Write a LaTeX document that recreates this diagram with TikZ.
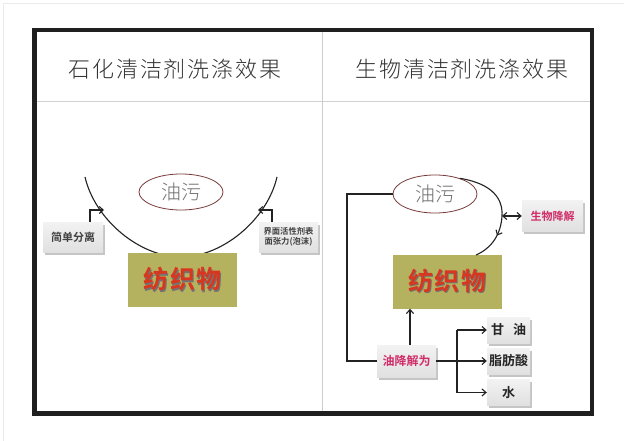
\documentclass[tikz,border=0pt]{standalone}
\usepackage{fontspec}
\newfontfamily\cjk{Noto Sans CJK SC}
\newfontfamily\cjkl[LetterSpace=8]{Noto Sans CJK SC Light}
\newfontfamily\cjkoil{Noto Sans CJK SC Light}
\newfontfamily\cjkb{Noto Sans CJK SC Bold}
\newfontfamily\cjkbs[LetterSpace=6]{Noto Sans CJK SC Bold}
\usetikzlibrary{shadows,arrows.meta,decorations.markings,shapes.geometric}
\definecolor{crim}{HTML}{D02C68}
\definecolor{fabric}{HTML}{B4B25E}
\definecolor{fabtext}{HTML}{D9361F}
\definecolor{ellc}{HTML}{7A3B3B}
\definecolor{oilc}{HTML}{707070}
\definecolor{ink}{HTML}{222222}
\newcommand{\fabtxt}{\makebox[0pt][l]{\hspace{1.3pt}\raisebox{-1.3pt}{\color{black!55}纺织物}}纺织物}
\begin{document}
\begin{tikzpicture}[x=1pt,y=-1pt,
  box/.style={draw=none, top color=gray!10, bottom color=gray!24,
    drop shadow={shadow xshift=1.6pt,shadow yshift=-2.6pt,fill=black!45},
    inner sep=0pt, text=black!75},
  fabbox/.style={fill=fabric, minimum width=109pt, minimum height=54pt, inner sep=0pt,
    font=\cjkbs\fontsize{25}{25}\selectfont, text=fabtext},
  oil/.style={ellipse, draw=ellc, line width=0.8pt, minimum width=84pt, minimum height=36pt,
    inner sep=0pt, font=\cjkoil\fontsize{20}{20}\selectfont, text=oilc},
  title/.style={font=\cjkl\fontsize{22}{22}\selectfont, text=black!80},
  ln/.style={draw=ink, line width=1.1pt},
  arr/.style={ln, -{Straight Barb[length=4pt,width=7pt,line width=1.1pt]}},
  darr/.style={ln, {Straight Barb[length=4pt,width=7pt,line width=1.1pt]}-{Straight Barb[length=4pt,width=7pt,line width=1.1pt]}},
]
\useasboundingbox (0,0) rectangle (624,441);
\fill[white] (0,0) rectangle (624,441);
% frame
\draw[black!8, line width=0.8pt] (3,441) -- (3,3) -- (624,3);
\draw[black!18, line width=0.6pt] (37,101) -- (590,101);
\draw[black!20, line width=0.6pt] (322,32) -- (322,412);
\draw[black!88, line width=4.5pt] (34.5,30) rectangle (592,413.5);

% titles
\node[title] (t1) at (175,69) {石化清洁剂洗涤效果};
\node[title] (t2) at (462,69) {生物清洁剂洗涤效果};

% ---------------- left panel
\coordinate (uL) at (85,177);
\coordinate (uB) at (181,257);
\coordinate (uR) at (277,177);
\draw[ln] (uL) .. controls (95,220) and (140,257) .. (uB) .. controls (222,257) and (267,220) .. (uR);
\node[oil] (oL) at (181,192) {油污};
\node[fabbox] (fL) at (182.5,280) {\fabtxt};
\node[box, minimum width=60pt, minimum height=30pt, font=\cjkb\fontsize{11}{11}\selectfont] (sep) at (73,237) {简单分离};
\node[box, minimum width=59pt, minimum height=30pt, align=center,
  font=\cjkb\fontsize{8.3}{10}\selectfont] (surf) at (288.5,237) {界面活性剂表\\面张力(泡沫)};
\coordinate (aL) at (104,210);
\coordinate (aR) at (258,210);
\draw[arr] ([xshift=17pt]sep.north) |- (aL);
\draw[arr] ([xshift=-16.5pt]surf.north) |- (aR);

% ---------------- right panel
\node[oil, minimum height=38pt] (oR) at (435,194) {油污};
\node[fabbox] (fR) at (447,281.5) {\fabtxt};
\node[box, minimum width=61pt, minimum height=31pt, text=crim,
  font=\cjkb\fontsize{11}{11}\selectfont] (bio) at (552.5,216) {生物降解};
\node[box, minimum width=59pt, minimum height=32pt, text=crim,
  font=\cjkb\fontsize{12}{12}\selectfont] (deg) at (406.5,361) {油降解为};
\node[box, minimum width=43pt, minimum height=26pt, text=black!85,
  font=\cjkb\fontsize{13}{13}\selectfont] (gly) at (508.5,330) {甘\hspace{9pt}油};
\node[box, minimum width=43pt, minimum height=26pt, text=black!85,
  font=\cjkb\fontsize{13}{13}\selectfont] (fat) at (508.5,361) {脂肪酸};
\node[box, minimum width=43pt, minimum height=26pt, text=black!85,
  font=\cjkb\fontsize{13}{13}\selectfont] (wat) at (508.5,392.5) {水};

\coordinate (M) at (502,216);
\coordinate (fRt) at (476,255);
\draw[ln, postaction={decorate}, decoration={markings,
  mark=at position 0.74 with {\arrow{Straight Barb[length=4pt,width=7pt,line width=1.1pt]}}}]
  (oR.32) .. controls (494,184) and (503,200) .. (M) .. controls (501,234) and (492,248) .. (fRt);
\draw[darr] (M) -- (bio.west);

\coordinate (cL) at (347,0);
\draw[ln] (oR.west) -| (cL |- deg.west) -- (deg.west);
\draw[arr] ([xshift=3.5pt]deg.north) -- ([xshift=3.5pt]deg.north |- fR.south);
\coordinate (br) at (457,0);
\draw[arr] (deg.east) -- (fat.west);
\draw[ln] (br |- gly.west) -- (br |- wat.west);
\draw[arr] (br |- gly.west) -- (gly.west);
\draw[arr] (br |- wat.west) -- (wat.west);
\end{tikzpicture}
\end{document}
